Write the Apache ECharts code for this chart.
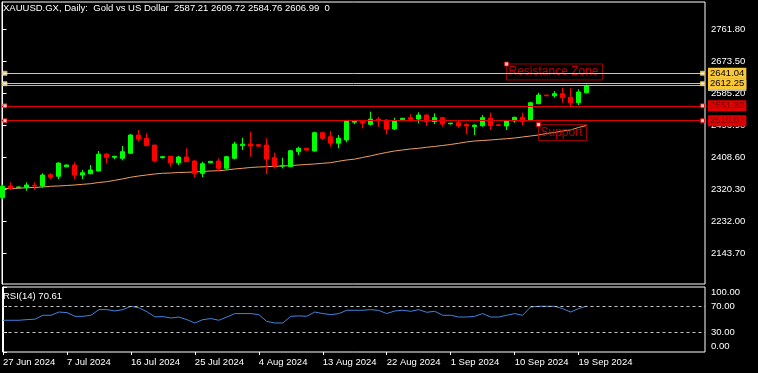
<!DOCTYPE html>
<html><head><meta charset="utf-8">
<script src="https://cdn.jsdelivr.net/npm/echarts@6/dist/echarts.min.js"></script>
<style>html,body{margin:0;padding:0;background:#000;}#c{width:758px;height:373px;}</style>
</head><body><div id="c"></div>
<script>
// ---------- DATA ----------
const dates = ['27 Jun 2024','28 Jun 2024','30 Jun 2024','1 Jul 2024','2 Jul 2024','3 Jul 2024','4 Jul 2024','5 Jul 2024',
 '7 Jul 2024','8 Jul 2024','9 Jul 2024','10 Jul 2024','11 Jul 2024','12 Jul 2024','14 Jul 2024','15 Jul 2024',
 '16 Jul 2024','17 Jul 2024','18 Jul 2024','19 Jul 2024','21 Jul 2024','22 Jul 2024','23 Jul 2024','24 Jul 2024',
 '25 Jul 2024','26 Jul 2024','28 Jul 2024','29 Jul 2024','30 Jul 2024','31 Jul 2024','1 Aug 2024','2 Aug 2024',
 '4 Aug 2024','5 Aug 2024','6 Aug 2024','7 Aug 2024','8 Aug 2024','9 Aug 2024','11 Aug 2024','12 Aug 2024',
 '13 Aug 2024','14 Aug 2024','15 Aug 2024','16 Aug 2024','18 Aug 2024','19 Aug 2024','20 Aug 2024','21 Aug 2024',
 '22 Aug 2024','23 Aug 2024','25 Aug 2024','26 Aug 2024','27 Aug 2024','28 Aug 2024','29 Aug 2024','30 Aug 2024',
 '1 Sep 2024','2 Sep 2024','3 Sep 2024','4 Sep 2024','5 Sep 2024','6 Sep 2024','8 Sep 2024','9 Sep 2024',
 '10 Sep 2024','11 Sep 2024','12 Sep 2024','13 Sep 2024','15 Sep 2024','16 Sep 2024','17 Sep 2024','18 Sep 2024',
 '19 Sep 2024','20 Sep 2024'];
const openP = [2298,2329.9,2325.5,2325.3,2332,2329.9,2361.2,2356.8,2383,2387.9,2360.3,2363.6,2371.3,2418,2409,2406.4,
 2420.2,2470.7,2461.5,2443,2408,2412,2394,2410,2399,2364.9,2394,2398.9,2378.8,2406.4,2441.2,2445.9,
 2444,2443,2408,2385,2383.2,2424.6,2434,2426.5,2477,2466,2448,2456.9,2506,2508,2500.2,2514.6,
 2512,2487.2,2513,2518.5,2514.6,2525.7,2507.4,2518.5,2501.5,2504.6,2500,2493.6,2496.4,2516.8,2499,2495.5,
 2509.3,2519.5,2512,2557,2581,2579,2584.6,2574.7,2559.8,2587.21];
const highP = [2334,2340,2328,2340,2340,2365,2365,2395,2389,2395,2374,2388,2426.5,2420,2413,2440.3,
 2472.6,2484.5,2475,2443.5,2412,2413,2413.5,2434,2401.7,2397,2399,2406,2412.8,2452.2,2463.2,2479.8,
 2446,2461.6,2421.8,2408,2429.3,2438.4,2435,2479.8,2479.8,2481.7,2470.7,2512,2512,2512,2535,2521,
 2514.6,2518.5,2518,2527.8,2533.3,2527.8,2530.6,2521,2504,2509.3,2503,2500,2525.7,2532.3,2500,2511,
 2521,2532.3,2562.6,2587.4,2582,2592,2601,2599.6,2596.8,2609.72];
const lowP = [2293,2318.9,2324,2317,2319,2325.3,2349,2349.3,2382,2349,2349,2363,2370,2392.6,2404,2400.8,
 2419,2452,2441,2395.4,2406,2383.6,2388,2397,2352.9,2354.8,2393,2371.3,2374,2403.6,2429.3,2410.8,
 2438,2363,2378.8,2378.8,2383,2415.5,2428,2424.6,2457,2438.4,2434,2450.5,2501,2489,2496.4,2493.6,
 2472.6,2484.5,2512,2507.4,2503,2495.5,2501,2493.6,2500,2490.9,2472.6,2470.7,2493.6,2484.5,2496,2484.5,
 2504.6,2498,2512,2556,2578,2573.6,2559.8,2546,2553.5,2584.76];
const closeP = [2329,2323.6,2327.5,2332.7,2330,2360.3,2354,2393.4,2388,2360.3,2366.6,2374.1,2417.4,2409,2412,2424.6,
 2470.7,2459.6,2441.2,2399.8,2411,2394,2410,2397,2364,2391.5,2398,2378.8,2410.8,2445.9,2445.5,2440.3,
 2440,2404.5,2385,2386,2427.3,2434,2429,2477,2461.6,2448,2461.6,2510.1,2508.5,2504,2514.6,2510,
 2487.2,2509.3,2517,2514,2525.7,2507.4,2518.5,2501,2503.5,2495.5,2495.5,2498,2518.5,2496.4,2497,2509.3,
 2519.5,2507.4,2559.8,2580.9,2579,2584.6,2573.6,2559.8,2589.3,2606.99];
const maValues = [2323.1,2323.1,2323.6,2325.3,2325.8,2327.2,2329.1,2330.0,2331.3,2332.7,2334.6,2336.3,2339.6,2341.8,2345.5,2349.5,
 2354.0,2357.5,2360.3,2363.1,2365.0,2365.8,2367.2,2367.8,2368.6,2370.0,2371.4,2372.2,2374.1,2376.9,2378.8,2381.0,
 2382.4,2383.2,2384.3,2385.2,2386.0,2387.9,2389.3,2390.7,2392.6,2394.3,2398.1,2401.7,2404.0,2408.6,2413.0,2418.0,
 2422.5,2426.5,2429.3,2432.1,2434.0,2436.8,2439.0,2441.7,2444.5,2447.8,2451.4,2454.1,2455.5,2456.9,2458.8,2460.5,
 2462.4,2465.2,2467.9,2470.7,2474.8,2477.6,2481.7,2484.5,2491.4,2496.9];
const rsiValues = [48.8,48.8,48.8,49.8,50.5,56.5,56.5,61.5,60.6,54.9,54.9,56.5,65.2,65.2,63.1,65.2,
 70.3,68,62,54,54.5,52.3,53.8,49.8,44.6,49.8,51.4,48.8,53.8,59.1,59.1,59.1,
 57.5,47,44.6,44.6,54.9,55.5,55,61.5,59.1,57.5,59,64.2,64.2,64.2,65.2,64,
 59.1,63.1,64.2,62.6,65.2,61.1,62.6,56.5,56.5,53.8,53.8,54.9,59.1,53.8,53.8,56.5,
 59.1,56.5,69.2,70.3,70.3,70.3,66.8,61.5,66.8,70.61];
const priceTicks = [2143.70, 2232.00, 2320.30, 2408.60, 2496.90, 2585.20, 2673.50, 2761.80];
const rsiTicks = [0, 30, 70, 100];
const rsiLevels = [30, 70];
const dateTickBars = [0, 8, 16, 24, 32, 40, 48, 56, 64, 72];
const resistanceLevels = [2641.04, 2612.25];
const supportLevels = [2551.30, 2510.07];
const bidPrice = 2606.99;
const annotationTexts = ['Resistance Zone', 'Support'];
const annotationBars = [63, 67];
const annotationPrices = [2666.6, 2499.7];
const titleText = 'XAUUSD.GX, Daily:  Gold vs US Dollar  2587.21 2609.72 2584.76 2606.99  0';
const rsiTitle = 'RSI(14) 70.61';

// ---------- STYLE ----------
const FONT = "'Liberation Sans', Arial, sans-serif";
const FS = 9.5;
const UP = '#00FF00', DOWN = '#FF0000';
const RES_COLOR = '#F8C838', SUP_COLOR = '#E00000', BID_COLOR = '#B8B8B8';
const X_MIN = -0.0625, X_MAX = 87.8125;
const Y_MIN = 2059.53, Y_MAX = 2837.68;

const candleData = dates.map((d, i) => [i, openP[i], closeP[i], lowP[i], highP[i]]);
const maData = maValues.map((v, i) => [i, v]);
const rsiData = rsiValues.map((v, i) => [i, v]);

function levelLine(v, color, textColor) {
  return {
    yAxis: v,
    lineStyle: { color: color, width: 1, type: 'solid' },
    label: { show: true, position: 'end', distance: 3, formatter: v.toFixed(2),
      backgroundColor: color, color: textColor, padding: [1, 2, 0, 2],
      fontSize: FS, fontFamily: FONT }
  };
}
const levelMarks = [levelLine(bidPrice, BID_COLOR, '#000')]
  .concat(supportLevels.map(v => levelLine(v, SUP_COLOR, '#7A0000')))
  .concat(resistanceLevels.map(v => levelLine(v, RES_COLOR, '#000')));

const anchorData = [];
resistanceLevels.forEach(v => {
  anchorData.push({ value: [X_MIN, v], symbolOffset: [3, 0], itemStyle: { borderColor: RES_COLOR } });
  anchorData.push({ value: [X_MAX, v], symbolOffset: [-2.5, 0], itemStyle: { borderColor: RES_COLOR } });
});
supportLevels.forEach(v => {
  anchorData.push({ value: [X_MIN, v], symbolOffset: [3, 0], itemStyle: { borderColor: SUP_COLOR } });
  anchorData.push({ value: [X_MAX, v], symbolOffset: [-2.5, 0], itemStyle: { borderColor: SUP_COLOR } });
});
annotationBars.forEach((b, k) => {
  anchorData.push({ value: [b, annotationPrices[k]], symbolOffset: [0, 0], itemStyle: { borderColor: SUP_COLOR } });
});

const chart = echarts.init(document.getElementById('c'), null, { renderer: 'canvas' });
chart.setOption({
  backgroundColor: '#000',
  animation: false,
  title: [
    { text: titleText, left: 3, top: 3, padding: 0,
      textStyle: { color: '#fff', fontSize: FS, fontWeight: 'normal', fontFamily: FONT } },
    { text: rsiTitle, left: 3, top: 291, padding: 0,
      textStyle: { color: '#fff', fontSize: FS, fontWeight: 'normal', fontFamily: FONT } }
  ],
  grid: [
    { left: 2, top: 2, width: 703, height: 282, show: true, borderColor: '#fff', borderWidth: 1, backgroundColor: 'transparent' },
    { left: 2, top: 287, width: 703, height: 65, show: true, borderColor: '#fff', borderWidth: 1, backgroundColor: 'transparent' }
  ],
  xAxis: [
    { type: 'value', gridIndex: 0, min: X_MIN, max: X_MAX, show: false },
    { type: 'value', gridIndex: 1, min: X_MIN, max: X_MAX,
      axisLine: { show: false }, splitLine: { show: false },
      axisTick: { show: true, customValues: dateTickBars, length: 3, lineStyle: { color: '#fff' } },
      axisLabel: { customValues: dateTickBars, formatter: v => dates[Math.round(v)] || '',
        color: '#fff', fontSize: FS, fontFamily: FONT, align: 'left', margin: 5, hideOverlap: false } }
  ],
  yAxis: [
    { type: 'value', gridIndex: 0, position: 'right', min: Y_MIN, max: Y_MAX, scale: true,
      axisLine: { show: true, lineStyle: { color: '#fff' } }, splitLine: { show: false },
      axisTick: { show: true, customValues: priceTicks, length: 4, lineStyle: { color: '#fff' } },
      axisLabel: { customValues: priceTicks, formatter: v => v.toFixed(2), color: '#fff',
        fontSize: FS, fontFamily: FONT, margin: 6 } },
    { type: 'value', gridIndex: 1, position: 'right', min: 0, max: 100,
      axisLine: { show: true, lineStyle: { color: '#fff' } }, splitLine: { show: false },
      axisTick: { show: true, customValues: rsiTicks, length: 4, lineStyle: { color: '#fff' } },
      axisLabel: { customValues: rsiTicks, color: '#fff', fontSize: FS, fontFamily: FONT, margin: 6,
        formatter: v => v === 100 ? '{t|100.00}' : (v === 0 ? '{b|0.00}' : v.toFixed(2)),
        rich: { t: { padding: [11, 0, 0, 0], color: '#fff', fontSize: FS, fontFamily: FONT },
                b: { padding: [0, 0, 11, 0], color: '#fff', fontSize: FS, fontFamily: FONT } } } }
  ],
  series: [
    { type: 'line', name: 'MA', xAxisIndex: 0, yAxisIndex: 0, data: maData, symbol: 'none',
      lineStyle: { color: '#F0A060', width: 1 }, silent: true, z: 2,
      markLine: { silent: true, symbol: 'none', animation: false, data: levelMarks } },
    { type: 'candlestick', xAxisIndex: 0, yAxisIndex: 0, data: candleData, barWidth: 4, barMaxWidth: 4,
      itemStyle: { color: UP, color0: DOWN, borderColor: UP, borderColor0: DOWN, borderWidth: 1 }, z: 3 },
    { type: 'scatter', name: 'notes', xAxisIndex: 0, yAxisIndex: 0, clip: false, z: 4,
      data: annotationBars.map((b, k) => ({ value: [b, annotationPrices[k]], name: annotationTexts[k] })),
      symbol: 'rect', symbolSize: 1, itemStyle: { color: 'rgba(0,0,0,0)' },
      label: { show: true, formatter: p => p.name, position: [0.5, 0.5], align: 'left', verticalAlign: 'top',
        color: '#E80000', fontSize: 12, fontFamily: FONT, borderColor: '#C00000', borderWidth: 1,
        padding: [2, 4, 2, 2] } },
    { type: 'scatter', name: 'anchors', xAxisIndex: 0, yAxisIndex: 0, clip: false, z: 6, silent: true,
      data: anchorData, symbol: 'rect', symbolSize: 4,
      itemStyle: { color: '#fff', borderWidth: 1 } },
    { type: 'line', name: 'RSI', xAxisIndex: 1, yAxisIndex: 1, data: rsiData, symbol: 'none',
      lineStyle: { color: '#3F84E0', width: 1 }, silent: true,
      markLine: { silent: true, symbol: 'none', animation: false, label: { show: false },
        lineStyle: { color: '#C8C8C8', type: [3, 3], width: 1 },
        data: rsiLevels.map(v => ({ yAxis: v })) } }
  ]
});
</script></body></html>
